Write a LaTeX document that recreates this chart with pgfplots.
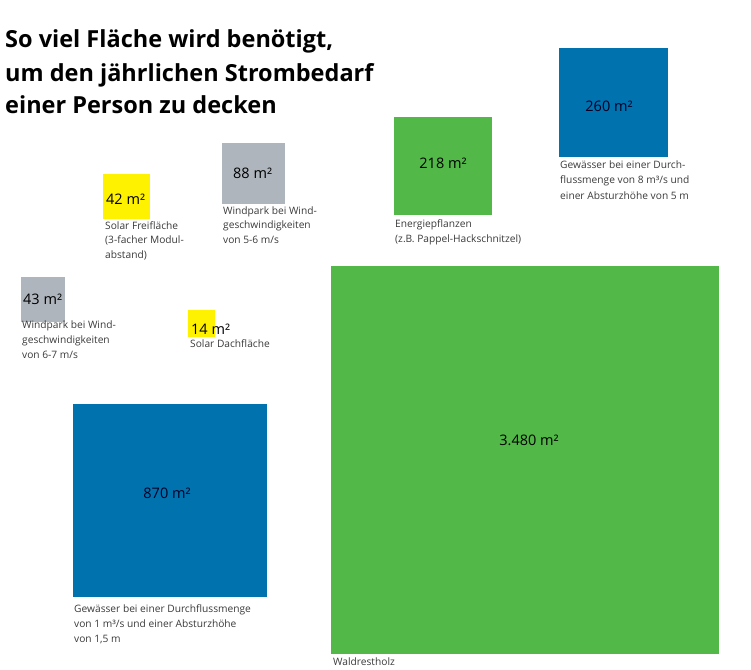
\documentclass[border=0pt]{standalone}
\usepackage{fontspec}
\setmainfont{Open Sans}
\usepackage{pgfplots}
\pgfplotsset{compat=1.18}
\definecolor{sYellow}{HTML}{FFF200}
\definecolor{sGray}{HTML}{AFB5BC}
\definecolor{sGreen}{HTML}{52B848}
\definecolor{sBlue}{HTML}{0072AE}
\definecolor{capC}{HTML}{3A3A3A}
\newcommand{\capfont}{\fontsize{10.2}{12}\selectfont}
\newcommand{\valfont}{\fontsize{14.5}{16}\selectfont}
\newcommand{\titfont}{\fontsize{23.5}{27}\selectfont\bfseries}
\newcommand{\capt}[3]{\node[anchor=base west,inner sep=0pt,font=\capfont,text=capC] at (axis cs:#1,#2) {#3};}
\begin{document}
\begin{tikzpicture}
\begin{axis}[
  width=751pt, height=669pt, scale only axis,
  xmin=0, xmax=751, ymin=0, ymax=669, y dir=reverse,
  hide axis, clip=false,
]
\path (axis cs:0,0) rectangle (axis cs:751,669);
% squares (pixel corners)
\addplot[fill=sYellow, draw=none] coordinates {(103,174) (150,174) (150,219) (103,219)} -- cycle;
\addplot[fill=sGray, draw=none] coordinates {(222,143) (285,143) (285,204) (222,204)} -- cycle;
\addplot[fill=sGreen, draw=none] coordinates {(394,117) (492,117) (492,215) (394,215)} -- cycle;
\addplot[fill=sBlue, draw=none] coordinates {(559,48) (668,48) (668,157) (559,157)} -- cycle;
\addplot[fill=sGray, draw=none] coordinates {(21,277) (65,277) (65,322) (21,322)} -- cycle;
\addplot[fill=sYellow, draw=none] coordinates {(188,310) (215,310) (215,337) (188,337)} -- cycle;
\addplot[fill=sBlue, draw=none] coordinates {(73,404) (267,404) (267,597) (73,597)} -- cycle;
\addplot[fill=sGreen, draw=none] coordinates {(331,266) (719,266) (719,654) (331,654)} -- cycle;
% title
\node[anchor=base west,inner sep=0pt,font=\titfont] at (axis cs:5,48) {So viel Fläche wird benötigt,};
\node[anchor=base west,inner sep=0pt,font=\titfont] at (axis cs:5,81) {um den jährlichen Strombedarf};
\node[anchor=base west,inner sep=0pt,font=\titfont] at (axis cs:5,113) {einer Person zu decken};
% values
\node[anchor=base west,inner sep=0pt,font=\valfont] at (axis cs:106,204) {42 m²};
\node[anchor=base west,inner sep=0pt,font=\valfont] at (axis cs:233,178) {88 m²};
\node[anchor=base,inner sep=0pt,font=\valfont] at (axis cs:443,168) {218 m²};
\node[anchor=base,inner sep=0pt,font=\valfont,text=black!85!blue] at (axis cs:609,111) {260 m²};
\node[anchor=base west,inner sep=0pt,font=\valfont] at (axis cs:23,304) {43 m²};
\node[anchor=base west,inner sep=0pt,font=\valfont] at (axis cs:191,334) {14 m²};
\node[anchor=base,inner sep=0pt,font=\valfont,text=black!85!blue] at (axis cs:167,498) {870 m²};
\node[anchor=base,inner sep=0pt,font=\valfont] at (axis cs:529,445) {3.480 m²};
% captions
\capt{105}{229}{Solar Freifläche}
\capt{105}{243.5}{(3-facher Modul-}
\capt{105}{258}{abstand)}
\capt{223}{214}{Windpark bei Wind-}
\capt{223}{228.5}{geschwindigkeiten}
\capt{223}{243}{von 5-6 m/s}
\capt{395}{227}{Energiepflanzen}
\capt{395}{242}{(z.B. Pappel-Hackschnitzel)}
\capt{560}{168}{Gewässer bei einer Durch-}
\capt{560}{183.5}{flussmenge von 8 m³/s und}
\capt{560}{199}{einer Absturzhöhe von 5 m}
\capt{22}{328}{Windpark bei Wind-}
\capt{22}{343}{geschwindigkeiten}
\capt{22}{358}{von 6-7 m/s}
\capt{190}{347}{Solar Dachfläche}
\capt{74}{612}{Gewässer bei einer Durchflussmenge}
\capt{74}{627}{von 1 m³/s und einer Absturzhöhe}
\capt{74}{642}{von 1,5 m}
\capt{333}{665}{Waldrestholz}
\end{axis}
\end{tikzpicture}
\end{document}
